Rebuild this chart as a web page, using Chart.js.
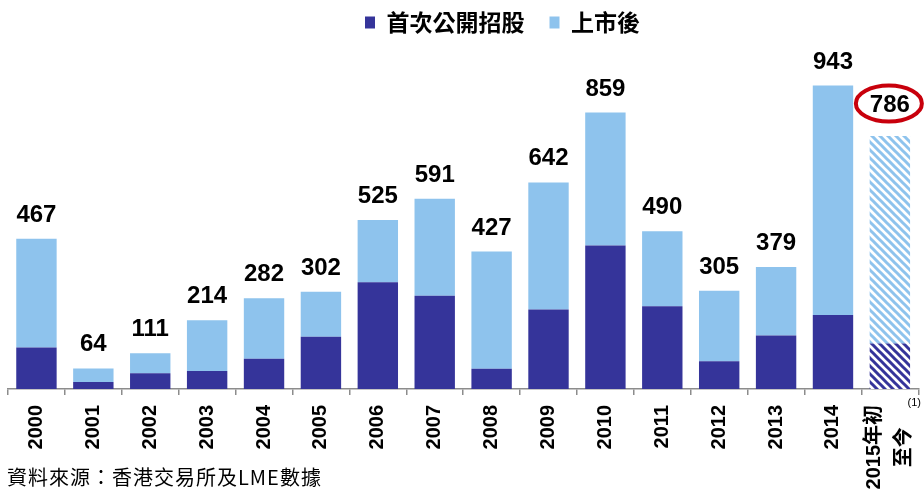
<!DOCTYPE html>
<html>
<head>
<meta charset="utf-8">
<script src="https://cdn.jsdelivr.net/npm/chart.js@4.4.0/dist/chart.umd.min.js"></script>
<style>
  body { margin: 0; background: #fff; }
  #wrap { width: 924px; height: 492px; position: relative; }
</style>
</head>
<body>
<div id="wrap"><canvas id="ipoChart"></canvas></div>
<script>
// Fund raising in HK: IPO vs post-listing (HK$ bn)

const years = [
  "2000", "2001", "2002", "2003", "2004", "2005", "2006", "2007",
  "2008", "2009", "2010", "2011", "2012", "2013", "2014",
  ["2015年初", "至今"],
];
const ipoData = [129, 22, 49, 56, 94, 162, 332, 290, 63, 247, 446, 257, 86, 166, 230, 141];
const postData = [338, 42, 62, 158, 188, 140, 193, 301, 364, 395, 413, 233, 219, 213, 713, 645];
const seriesNames = ["首次公開招股", "上市後"];
const sourceNote = "資料來源：香港交易所及LME數據";
const footnoteMark = "(1)";

const DARK = "#35349a";
const LIGHT = "#8ec3ed";
const lastIndex = years.length - 1;

const ctx = document.getElementById("ipoChart").getContext("2d");

// diagonal stripes for the year-to-date bar
function makeStripes(color) {
  const c = document.createElement("canvas");
  c.width = 8;
  c.height = 8;
  const g = c.getContext("2d");
  g.fillStyle = "#fff";
  g.fillRect(0, 0, 8, 8);
  g.strokeStyle = color;
  g.lineWidth = 3;
  g.beginPath();
  g.moveTo(-2, -2); g.lineTo(10, 10);
  g.moveTo(-2, 6); g.lineTo(2, 10);
  g.moveTo(6, -2); g.lineTo(10, 2);
  g.stroke();
  return ctx.createPattern(c, "repeat");
}
const darkStripes = makeStripes(DARK);
const lightStripes = makeStripes(LIGHT);

function barColor(solid, pattern) {
  return function (c) {
    return c.dataIndex === lastIndex ? pattern : solid;
  };
}

// totals above bars + red ring around the last one
const totalsPlugin = {
  id: "totals",
  afterLayout(chart) {
    // legend sits a bit right of centre in the original
    chart.legend.left += 77;
  },
  afterDatasetsDraw(chart) {
    const g = chart.ctx;
    const topMeta = chart.getDatasetMeta(1);
    g.save();
    g.fillStyle = "#000";
    g.font = 'bold 24px "Liberation Sans", Arial, sans-serif';
    g.textAlign = "center";
    g.textBaseline = "alphabetic";
    topMeta.data.forEach((bar, i) => {
      const total = ipoData[i] + postData[i];
      const gap = i === lastIndex ? 24 : 17;
      g.fillText(String(total), bar.x, bar.y - gap);
      if (i === lastIndex) {
        g.strokeStyle = "#c8000c";
        g.lineWidth = 4;
        g.beginPath();
        g.ellipse(bar.x - 1, bar.y - gap - 8.5, 33, 18, 0, 0, Math.PI * 2);
        g.stroke();
      }
    });
    g.restore();
  },
  afterDraw(chart) {
    const g = chart.ctx;
    const xs = chart.scales.x;
    g.save();
    g.fillStyle = "#000";
    // two-line label for the last category
    const lines = years[lastIndex];
    const px = xs.getPixelForTick(lastIndex);
    g.font = 'bold 20px "Liberation Sans", "Noto Sans CJK TC", sans-serif';
    const w = g.measureText(lines[0]).width;
    const cy = xs.top + 16 + w / 2;
    g.textAlign = "center";
    g.textBaseline = "middle";
    [px - 15, px + 15].forEach((x, k) => {
      g.save();
      g.translate(x, cy);
      g.rotate(-Math.PI / 2);
      g.fillText(lines[k], 0, 0);
      g.restore();
    });
    // footnote marker
    g.font = '11px "Liberation Sans", Arial, sans-serif';
    g.textAlign = "right";
    g.textBaseline = "alphabetic";
    g.fillText(footnoteMark, chart.width - 3, xs.top + 17);
    // source
    g.font = '20px "Noto Sans CJK TC", sans-serif';
    g.textAlign = "left";
    g.letterSpacing = "1px";
    g.fillText(sourceNote, 7, 485);
    g.restore();
  },
};

const fundChart = new Chart(ctx, {
  type: "bar",
  data: {
    labels: years,
    datasets: [
      {
        label: seriesNames[0],
        data: ipoData,
        backgroundColor: barColor(DARK, darkStripes),
        borderWidth: 0,
        barPercentage: 0.71,
        categoryPercentage: 1,
      },
      {
        label: seriesNames[1],
        data: postData,
        backgroundColor: barColor(LIGHT, lightStripes),
        borderWidth: 0,
        barPercentage: 0.71,
        categoryPercentage: 1,
      },
    ],
  },
  options: {
    responsive: true,
    maintainAspectRatio: false,
    animation: false,
    layout: {
      padding: { top: -14, left: 8, right: 4, bottom: 0 },
    },
    plugins: {
      legend: {
        display: true,
        position: "top",
        align: "center",
        labels: {
          color: "#000",
          boxWidth: 10,
          boxHeight: 12,
          padding: 25,
          font: { family: '"Noto Sans CJK TC", sans-serif', size: 23, weight: "bold" },
        },
      },
      tooltip: { enabled: false },
    },
    scales: {
      x: {
        stacked: true,
        grid: {
          display: true,
          drawOnChartArea: false,
          drawTicks: true,
          tickLength: 6,
          color: "#8c8c8c",
          lineWidth: 1.5,
        },
        border: { display: true, color: "#8c8c8c", width: 1.5 },
        ticks: {
          color: "#000",
          maxRotation: 90,
          minRotation: 90,
          padding: 10,
          autoSkip: false,
          font: { family: '"Liberation Sans", Arial, sans-serif', size: 20, weight: "bold" },
          callback: function (value, index) {
            const lbl = years[index];
            return Array.isArray(lbl) ? "" : lbl;
          },
        },
        afterFit: function (scale) {
          scale.height = 103;
        },
      },
      y: {
        stacked: true,
        display: false,
        min: 0,
        max: 1072,
      },
    },
  },
  plugins: [totalsPlugin],
});
</script>
</body>
</html>
